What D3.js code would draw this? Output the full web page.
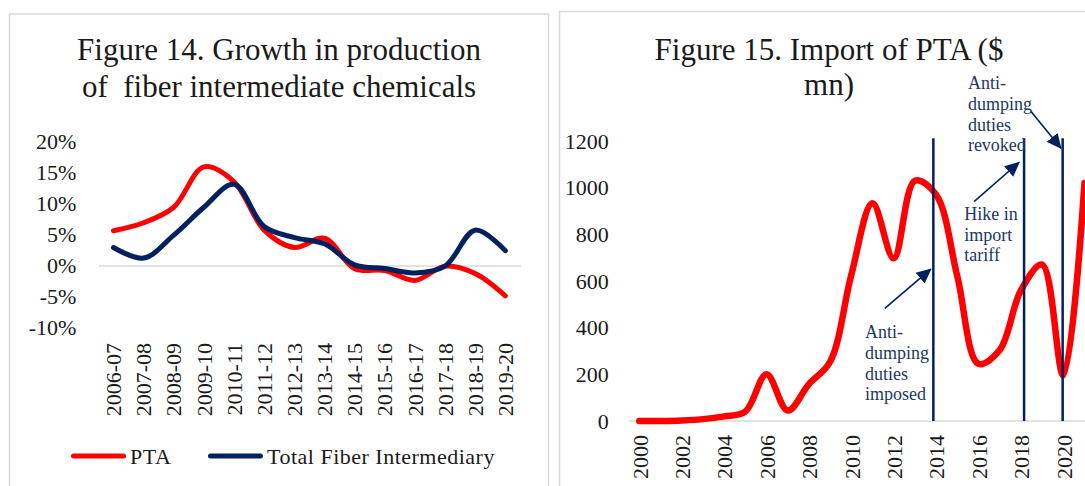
<!DOCTYPE html>
<html>
<head>
<meta charset="utf-8">
<script src="https://cdn.jsdelivr.net/npm/d3@7"></script>
<style>
  html, body { margin: 0; padding: 0; background: #fff; overflow: hidden; }
  svg { display: block; font-family: "Liberation Serif", "Times New Roman", serif; }
</style>
</head>
<body>
<svg id="chart" width="1085" height="486"></svg>
<script>
// ---- Figure 14: growth in production (%) ----
const growthCategories = ["2006-07", "2007-08", "2008-09", "2009-10", "2010-11", "2011-12", "2012-13",
  "2013-14", "2014-15", "2015-16", "2016-17", "2017-18", "2018-19", "2019-20"];
const ptaGrowth = [5.6, 6.9, 9.4, 15.9, 13.5, 5.7, 2.9, 4.4, -0.5, -0.8, -2.4, -0.1, -1.3, -4.9];
const fiberGrowth = [2.9, 1.2, 4.9, 9.4, 13.1, 6.3, 4.5, 3.5, 0.1, -0.5, -1.2, -0.1, 5.7, 2.4];
const growthTicks = [-10, -5, 0, 5, 10, 15, 20];
const growthSeries = ["PTA", "Total Fiber Intermediary"];
const seriesColors = ["#ff0000", "#002060"];

// ---- Figure 15: import of PTA ($ mn) ----
const importYears = [2000, 2001, 2002, 2003, 2004, 2005, 2006, 2007, 2008, 2009, 2010,
  2011, 2012, 2013, 2014, 2015, 2016, 2017, 2018, 2019, 2020, 2021];
const ptaImports = [0, 0, 2, 8, 20, 40, 200, 45, 158, 254, 626, 933, 697, 1030, 970, 620, 245, 304, 560, 670, 195, 1020];
const importTicks = [0, 200, 400, 600, 800, 1000, 1200];
const importYearTicks = [2000, 2002, 2004, 2006, 2008, 2010, 2012, 2014, 2016, 2018, 2020];
// policy events (fractional year) and the height the marker lines reach
const policyYears = [2013.87, 2018.15, 2019.97];
const policyLineTop = 1212;
const policyNotes = [
  { lines: ["Anti-", "dumping", "duties", "imposed"], year: 2010.65, value: 354 },
  { lines: ["Hike in", "import", "tariff"], year: 2015.33, value: 861 },
  { lines: ["Anti-", "dumping", "duties", "revoked"], year: 2015.5, value: 1421 }
];
const policyArrows = [
  { from: [2011.58, 483], to: [2013.75, 651] },
  { from: [2015.79, 940], to: [2017.92, 1109] },
  { from: [2018.48, 1326], to: [2019.89, 1169] }
];

const svg = d3.select("#chart");
const gridGrey = "#d9d9d9";
const textColor = "#1a1a1a";
const navy = "#002060";

// panel frames
svg.append("rect").attr("x", 9.5).attr("y", 14).attr("width", 539).attr("height", 500)
  .attr("fill", "none").attr("stroke", gridGrey).attr("stroke-width", 1.5);
svg.append("rect").attr("x", 559.5).attr("y", 11.5).attr("width", 545).attr("height", 500)
  .attr("fill", "none").attr("stroke", gridGrey).attr("stroke-width", 1.5);

function title(lines, cx, baselines) {
  const t = svg.append("text").attr("text-anchor", "middle").attr("font-size", 31)
    .attr("fill", textColor).style("white-space", "pre");
  lines.forEach((s, i) => t.append("tspan").attr("x", cx).attr("y", baselines[i]).text(s));
}

// ======== Left chart ========
title(["Figure 14. Growth in production", "of  fiber intermediate chemicals"], 279, [60, 96.5]);

const xL = d3.scaleBand().domain(growthCategories).range([98.4, 520.4]);
const yL = d3.scaleLinear().domain([-10, 20]).range([327.5, 141.5]);

const yAxisL = svg.append("g").attr("transform", `translate(${xL.range()[0]},0)`)
  .call(d3.axisLeft(yL).tickValues(growthTicks).tickSize(0).tickPadding(22).tickFormat(d => d + "%"));
yAxisL.select(".domain").remove();
yAxisL.selectAll("text").attr("font-size", 22).attr("font-family", "Liberation Serif").attr("fill", textColor);

const xAxisL = svg.append("g").attr("transform", `translate(0,${yL(0)})`)
  .call(d3.axisBottom(xL).tickSize(0).tickSizeOuter(0));
xAxisL.select(".domain").attr("stroke", gridGrey).attr("stroke-width", 1.5);
xAxisL.selectAll("text")
  .attr("font-size", 22).attr("font-family", "Liberation Serif").attr("fill", textColor)
  .attr("transform", "rotate(-90)").attr("text-anchor", "end")
  .attr("x", -(343 - yL(0))).attr("y", 0).attr("dy", "0.35em");

const lineL = d3.line()
  .x((d, i) => xL(growthCategories[i]) + xL.bandwidth() / 2)
  .y(d => yL(d))
  .curve(d3.curveCatmullRom.alpha(0.5));

[ptaGrowth, fiberGrowth].forEach((vals, k) => {
  svg.append("path").datum(vals).attr("d", lineL)
    .attr("fill", "none").attr("stroke", seriesColors[k]).attr("stroke-width", 5)
    .attr("stroke-linecap", "round").attr("stroke-linejoin", "round");
});

// legend
const legendX = [73.5, 210.5];
growthSeries.forEach((name, k) => {
  const g = svg.append("g").attr("transform", `translate(${legendX[k]},456)`);
  g.append("line").attr("x1", 0).attr("x2", 50).attr("y1", 0).attr("y2", 0)
    .attr("stroke", seriesColors[k]).attr("stroke-width", 5).attr("stroke-linecap", "round");
  g.append("text").attr("x", 56.5).attr("y", 7.5).attr("font-size", 22)
    .attr("letter-spacing", 0.5).attr("fill", textColor).text(name);
});

// ======== Right chart ========
title(["Figure 15. Import of PTA ($", "mn)"], 829, [60, 95]);

const xR = d3.scaleLinear().domain([2000, 2021]).range([639.3, 1084.5]);
const yR = d3.scaleLinear().domain([0, 1200]).range([421, 141]);

const yAxisR = svg.append("g").attr("transform", `translate(${xR(1999.5)},0)`)
  .call(d3.axisLeft(yR).tickValues(importTicks).tickSize(0).tickPadding(20).tickFormat(d3.format("d")));
yAxisR.select(".domain").remove();
yAxisR.selectAll("text").attr("font-size", 22).attr("font-family", "Liberation Serif").attr("fill", textColor);

svg.append("line").attr("x1", xR(1999.5)).attr("x2", xR(2021.5))
  .attr("y1", yR(0)).attr("y2", yR(0)).attr("stroke", gridGrey).attr("stroke-width", 1.5);

const xAxisR = svg.append("g").attr("transform", `translate(0,${yR(0)})`)
  .call(d3.axisBottom(xR).tickValues(importYearTicks).tickSize(0).tickFormat(d3.format("d")));
xAxisR.select(".domain").remove();
xAxisR.selectAll("text")
  .attr("font-size", 22).attr("font-family", "Liberation Serif").attr("fill", textColor)
  .attr("transform", "rotate(-90)").attr("text-anchor", "end")
  .attr("x", -14).attr("y", 0).attr("dy", "0.35em");

const lineR = d3.line()
  .x((d, i) => xR(importYears[i]))
  .y(d => yR(d))
  .curve(d3.curveCatmullRom.alpha(0.5));

svg.append("path").datum(ptaImports).attr("d", lineR)
  .attr("fill", "none").attr("stroke", "#ff0000").attr("stroke-width", 6.5)
  .attr("stroke-linecap", "round").attr("stroke-linejoin", "round");

// policy event markers
svg.selectAll("line.policy").data(policyYears).join("line").attr("class", "policy")
  .attr("x1", d => xR(d)).attr("x2", d => xR(d))
  .attr("y1", yR(0)).attr("y2", yR(policyLineTop))
  .attr("stroke", navy).attr("stroke-width", 2.5);

// arrows
svg.append("defs").append("marker").attr("id", "arrowhead")
  .attr("viewBox", "0 0 15 15").attr("refX", 14).attr("refY", 7.5)
  .attr("markerWidth", 15).attr("markerHeight", 15).attr("markerUnits", "userSpaceOnUse")
  .attr("orient", "auto")
  .append("path").attr("d", "M0,0.5 L15,7.5 L0,14.5 Z").attr("fill", navy);

svg.selectAll("line.arrow").data(policyArrows).join("line").attr("class", "arrow")
  .attr("x1", d => xR(d.from[0])).attr("y1", d => yR(d.from[1]))
  .attr("x2", d => xR(d.to[0])).attr("y2", d => yR(d.to[1]))
  .attr("stroke", navy).attr("stroke-width", 1.6).attr("marker-end", "url(#arrowhead)");

// annotation text
policyNotes.forEach(n => {
  const t = svg.append("text").attr("font-size", 18).attr("fill", "#203864");
  n.lines.forEach((s, i) => t.append("tspan").attr("x", xR(n.year)).attr("y", yR(n.value) + i * 20.6).text(s));
});
</script>
</body>
</html>
